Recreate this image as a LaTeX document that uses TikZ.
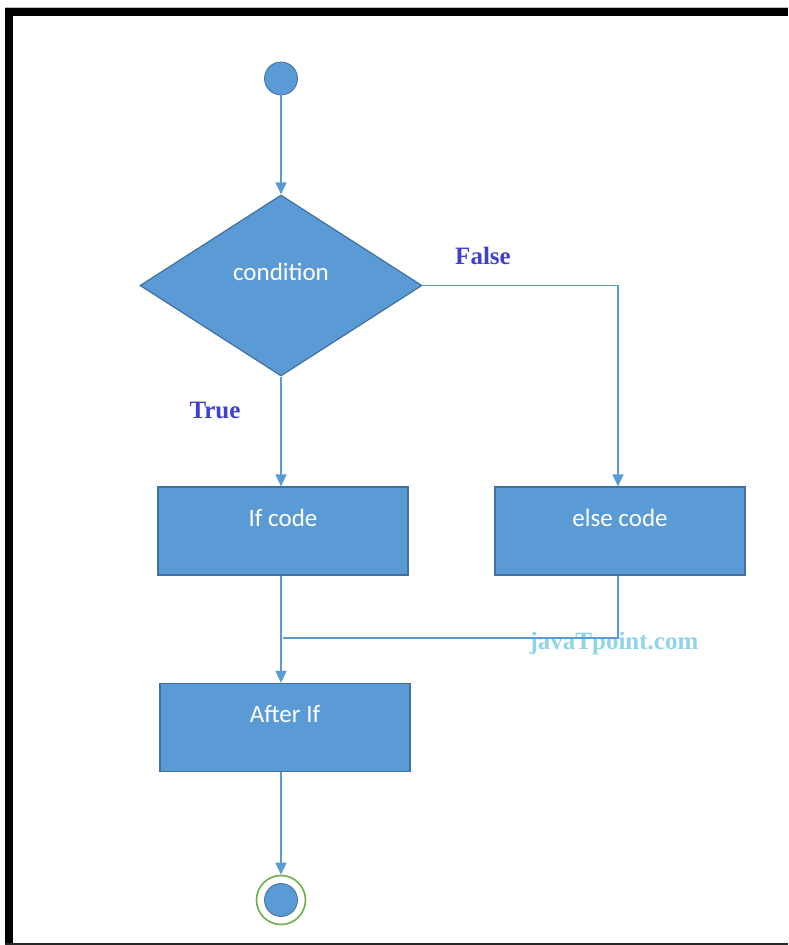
\documentclass[tikz,border=0pt]{standalone}
\usepackage{fontspec}
\setmainfont{Liberation Serif}
\newfontfamily\boxfont{Carlito}
\usetikzlibrary{shapes.geometric,arrows.meta}
\definecolor{flowblue}{RGB}{91,155,213}
\definecolor{edgeblue}{RGB}{65,113,156}
\definecolor{ringgreen}{RGB}{112,173,71}
\definecolor{labelblue}{RGB}{64,64,204}
\definecolor{markcyan}{RGB}{143,212,234}
\begin{document}
\begin{tikzpicture}[x=1pt, y=-1pt,
  boxtext/.style={text=white, font=\boxfont\fontsize{25}{29}\selectfont, text height=18pt, text depth=28pt},
  flowbox/.style={draw=edgeblue, fill=flowblue, line width=1.2pt, minimum width=250pt, minimum height=88pt, boxtext},
  decision/.style={diamond, draw=edgeblue, fill=flowblue, line width=1.2pt, minimum width=282pt, minimum height=181pt, inner sep=0pt, boxtext},
  dot/.style={circle, draw=edgeblue, fill=flowblue, line width=0.8pt, minimum size=33pt, inner sep=0pt},
  endring/.style={circle, draw=ringgreen, line width=1.6pt, minimum size=49pt, inner sep=0pt},
  flow/.style={draw=flowblue, line width=1.5pt},
  arrow/.style={flow, -{Triangle[width=11pt,length=12pt]}},
  branch/.style={font=\bfseries\fontsize{25}{28}\selectfont, text=labelblue}]
\useasboundingbox (0,0) rectangle (788,945);

% Frame
\draw[black!25, line width=1pt] (5,7) -- (788,7);
\fill[black] (5,8) rectangle (788,16);
\fill[black] (5,8) rectangle (13,943);
\draw[black!85, line width=2pt] (5,943.5) -- (788,943.5);

% Nodes
\node[dot] (start) at (281,78.5) {};
\node[decision] (cond) at (281,285.5) {condition};
\node[flowbox] (ifcode) at (283,531) {If code};
\node[flowbox] (elsecode) at (620,531) {else code};
\node[flowbox] (afterif) at (285,727.5) {After If};
\node[endring] (stop) at (281,900) {};
\node[dot] (stopdot) at (stop) {};
\coordinate (merge) at (283,638);

% Labels
\node[branch] (falselbl) at (483,256) {False};
\node[branch] (truelbl) at (215,410) {True};
\node[font=\bfseries\fontsize{25}{28}\selectfont, text=markcyan] (mark) at (614,643) {javaTpoint.com};

% Connectors
\draw[arrow] (start) -- (cond.north);
\draw[arrow] (cond.south) -- (cond.south |- ifcode.north);
\draw[arrow] (cond.east) -| ([xshift=-2pt]elsecode.north);
\draw[flow] ([xshift=-2pt]elsecode.south) |- (merge);
\draw[arrow] (ifcode.south -| cond.south) -- (afterif.north -| cond.south);
\draw[arrow] (afterif.south -| cond.south) -- (stop);
\end{tikzpicture}
\end{document}
